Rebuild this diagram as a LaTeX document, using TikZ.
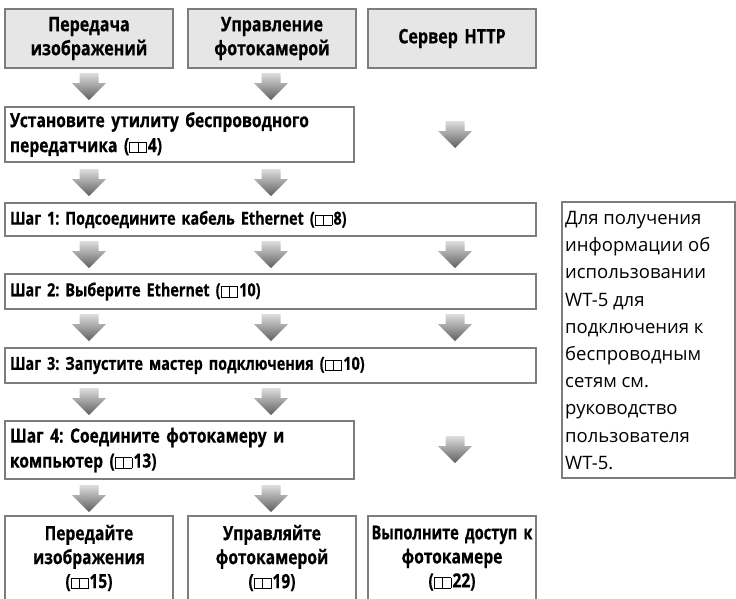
\documentclass[tikz,border=0pt]{standalone}
\usepackage{fontspec}
\usepackage{graphicx}
\IfFontExistsTF{Open Sans Bold}
  {\newfontfamily\condfontx[FakeStretch=0.8,FakeBold=0.5,WordSpace=0.8]{Open Sans Bold}\newcommand\condfont{\condfontx}}
  {\newfontfamily\condfontx[FakeStretch=0.8,WordSpace=0.8]{Open Sans}\newcommand\condfont{\condfontx\bfseries}}
\newfontfamily\notefont{Open Sans}
\frenchspacing
\definecolor{bordergray}{RGB}{125,125,125}
\definecolor{hdrfill}{RGB}{230,230,230}
\definecolor{arrtop}{RGB}{222,222,222}
\definecolor{arrbot}{RGB}{95,95,95}
\newcommand\bk{\raisebox{-0.3pt}{\setlength\fboxrule{0.9pt}\setlength\fboxsep{0pt}\fbox{\rule{0pt}{9.5pt}\hspace{7.5pt}}\kern-0.9pt\fbox{\rule{0pt}{9.5pt}\hspace{7.5pt}}}\kern1pt}
\newcommand\cfont[2]{\condfont\fontsize{#1}{#2}\selectfont}
\tikzset{
  boxbase/.style={draw=bordergray, line width=1.6pt, outer sep=0pt, inner xsep=5pt, inner ysep=0pt,
    font=\cfont{19.5}{25}},
  smallstep/.style={font=\cfont{18}{25}},
  hdrbox/.style={boxbase, fill=hdrfill, text width=158pt, align=center, minimum height=59pt, anchor=north west,
    font=\cfont{20}{24}},
  endbox/.style={boxbase, fill=white, text width=158pt, align=center, minimum height=84pt, anchor=north west,
    font=\cfont{19.5}{24}},
  stepbox/.style={boxbase, fill=white, align=left, anchor=north west},
  notebox/.style={draw=bordergray, line width=1.6pt, outer sep=0pt, minimum width=173pt, minimum height=276pt, anchor=north west},
  notetext/.style={inner sep=0pt, align=left, anchor=north west, font=\notefont\fontsize{18.5}{27.2}\selectfont},
  garrow/.pic={\shade[top color=arrtop, bottom color=arrbot]
    (-9.5,0) -- (9.5,0) -- (9.5,10) -- (17,10) -- (0,27) -- (-17,10) -- (-9.5,10) -- cycle;}
}
\begin{document}
\begin{tikzpicture}[x=1pt, y=-1pt]
\useasboundingbox (0,0) rectangle (736,598);
% header boxes
\node[hdrbox] (h1) at (5,9) {Передача\\изображений};
\node[hdrbox] (h2) at (188,9) {Управление\\фотокамерой};
\node[hdrbox] (h3) at (368,9) {Сервер HTTP};
% install box
\node[stepbox, text width=339pt, minimum height=55pt] (inst) at (5,107) {Установите утилиту беспроводного\\передатчика (\bk4)};
% steps
\node[stepbox, smallstep, text width=521pt, minimum height=33pt] (s1) at (5,203) {Шаг 1: Подсоедините кабель Ethernet (\bk8)};
\node[stepbox, smallstep, text width=521pt, minimum height=35pt] (s2) at (5,274) {Шаг 2: Выберите Ethernet (\bk10)};
\node[stepbox, smallstep, text width=521pt, minimum height=35pt] (s3) at (5,348) {Шаг 3: Запустите мастер подключения (\bk10)};
\node[stepbox, text width=339pt, minimum height=58pt] (s4) at (5,421) {Шаг 4: Соедините фотокамеру и\\компьютер (\bk13)};
% end boxes
\node[endbox] (e1) at (5,516) {Передайте\\изображения\\(\bk15)};
\node[endbox] (e2) at (188,516) {Управляйте\\фотокамерой\\(\bk19)};
\node[endbox] (e3) at (368,516) {\makebox[\linewidth]{\scalebox{0.94}[1]{Выполните доступ к}}\\фотокамере\\(\bk22)};
% note
\node[notebox] (note) at (562,202) {};
\node[notetext] (notetxt) at (565,211) {Для получения\\информации об\\использовании\\WT-5 для\\подключения к\\беспроводным\\сетям см.\\руководство\\пользователя\\WT-5.};
% arrows
\pic at (89,73) {garrow};
\pic at (271,73) {garrow};
\pic at (455,121) {garrow};
\pic at (89,169) {garrow};
\pic at (271,169) {garrow};
\pic at (89,241) {garrow};
\pic at (271,241) {garrow};
\pic at (455,241) {garrow};
\pic at (89,314) {garrow};
\pic at (271,314) {garrow};
\pic at (455,314) {garrow};
\pic at (89,388) {garrow};
\pic at (271,388) {garrow};
\pic at (455,436) {garrow};
\pic at (89,485) {garrow};
\pic at (271,485) {garrow};
\end{tikzpicture}
\end{document}
